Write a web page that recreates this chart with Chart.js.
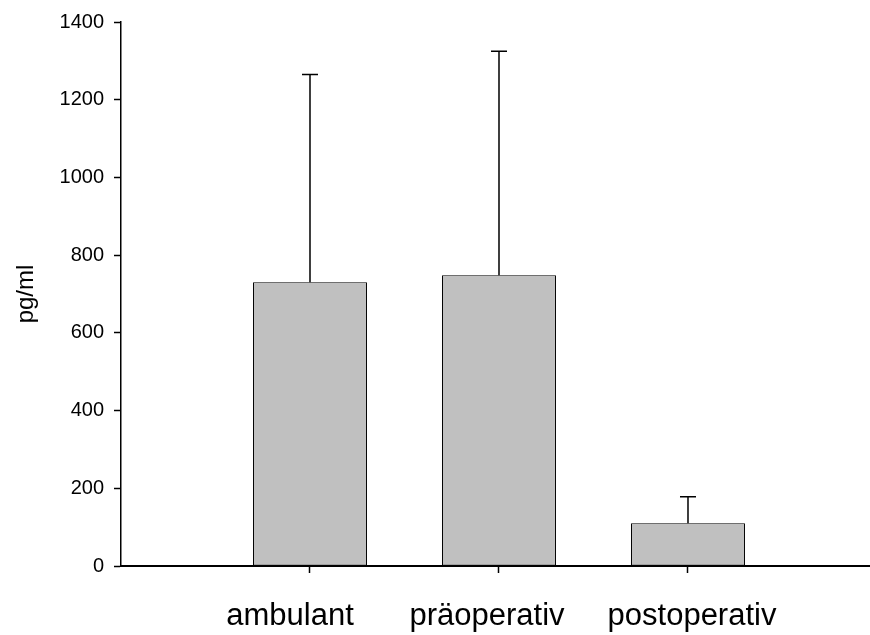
<!DOCTYPE html>
<html>
<head>
<meta charset="utf-8">
<script src="https://cdn.jsdelivr.net/npm/chart.js@4.4.1/dist/chart.umd.min.js"></script>
<style>
  html, body { margin: 0; padding: 0; background: #fff; overflow: hidden; }
  #wrap { width: 870px; height: 635px; }
</style>
</head>
<body>
<div id="wrap"><canvas id="c" width="870" height="635"></canvas></div>
<script>
// Group means and upper standard deviations (pg/ml)
const categories = ['ambulant', 'präoperativ', 'postoperativ'];
const means = [730, 748, 110];
const upperErrors = [535, 577, 68];
const yTickValues = [0, 200, 400, 600, 800, 1000, 1200, 1400];

// Horizontal nudge (px) for each category caption under its tick
const captionShift = [-20, -12, 4];

const FONT = 'Arial, "Liberation Sans", Helvetica, sans-serif';

// Upper whiskers with a short cap above each bar
const upperErrorBars = {
  id: 'upperErrorBars',
  afterDatasetsDraw(chart) {
    const { ctx } = chart;
    const y = chart.scales.y;
    const meta = chart.getDatasetMeta(0);
    ctx.save();
    ctx.strokeStyle = '#000';
    ctx.lineWidth = 1.5;
    meta.data.forEach((bar, i) => {
      const top = y.getPixelForValue(means[i] + upperErrors[i]);
      ctx.beginPath();
      ctx.moveTo(bar.x, bar.y);
      ctx.lineTo(bar.x, top);
      ctx.moveTo(bar.x - 8, top);
      ctx.lineTo(bar.x + 8, top);
      ctx.stroke();
    });
    ctx.restore();
  }
};

// Shift the category captions individually after layout
const captionNudge = {
  id: 'captionNudge',
  afterUpdate(chart) {
    const xs = chart.scales.x;
    xs._labelItems = null;
    const items = xs.getLabelItems(chart.chartArea);
    items.forEach((item, i) => {
      item.options.translation[0] += captionShift[i] || 0;
    });
  }
};

new Chart(document.getElementById('c'), {
  type: 'bar',
  data: {
    datasets: [{
      data: means.map((v, i) => ({ x: i + 1, y: v })),
      backgroundColor: '#c0c0c0',
      borderColor: '#000',
      borderWidth: 1,
      borderSkipped: false,
      categoryPercentage: 1,
      barPercentage: 0.603
    }]
  },
  options: {
    responsive: false,
    animation: false,
    devicePixelRatio: 1,
    events: [],
    layout: { padding: { top: 21, right: 0, bottom: 0, left: 0 } },
    plugins: {
      legend: { display: false },
      tooltip: { enabled: false }
    },
    scales: {
      x: {
        type: 'linear',
        min: 0,
        max: 3.963,
        offset: false,
        afterBuildTicks: (s) => { s.ticks = categories.map((_, i) => ({ value: i + 1 })); },
        afterFit: (s) => { s.height = 69; },
        grid: {
          display: true,
          offset: false,
          drawOnChartArea: false,
          drawTicks: true,
          tickLength: 7,
          tickColor: '#000',
          tickWidth: 1.5
        },
        border: { display: true, color: '#000', width: 2 },
        ticks: {
          autoSkip: false,
          maxRotation: 0,
          padding: 25,
          color: '#000',
          font: { family: FONT, size: 31 },
          callback: (v) => categories[v - 1] ?? ''
        }
      },
      y: {
        min: 0,
        max: 1400,
        afterBuildTicks: (s) => { s.ticks = yTickValues.map(v => ({ value: v })); },
        afterFit: (s) => { s.width = 121; },
        grid: {
          display: true,
          drawOnChartArea: false,
          drawTicks: true,
          tickLength: 7,
          tickColor: '#000',
          tickWidth: 1.5
        },
        border: { display: true, color: '#000', width: 1.5 },
        ticks: {
          padding: 10,
          color: '#000',
          font: { family: FONT, size: 20 },
          callback: (v) => String(v)
        },
        title: {
          display: true,
          text: 'pg/ml',
          color: '#000',
          font: { family: FONT, size: 24 },
          padding: { top: 12, bottom: 0 }
        }
      }
    }
  },
  plugins: [upperErrorBars, captionNudge]
});
</script>
</body>
</html>
